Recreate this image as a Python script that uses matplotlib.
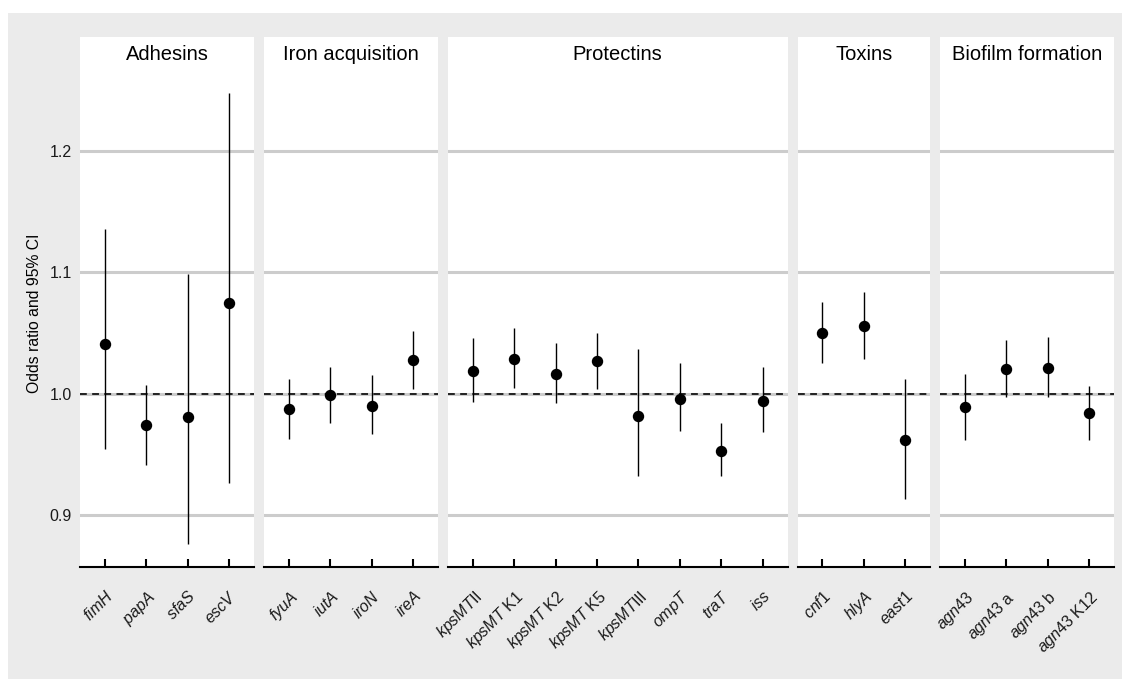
import matplotlib
matplotlib.use("Agg")
import matplotlib.pyplot as plt
from matplotlib.patches import Rectangle

plt.rcParams['font.family'] = 'Liberation Sans'
plt.rcParams['mathtext.fontset'] = 'custom'
plt.rcParams['mathtext.it'] = 'Liberation Sans:italic'
plt.rcParams['mathtext.rm'] = 'Liberation Sans'

# Virulence factor groups (facets)
groups = ["Adhesins", "Iron acquisition", "Protectins", "Toxins", "Biofilm formation"]

# Genes, the group each one belongs to, and the tick label shown
genes = ["fimH", "papA", "sfaS", "escV",
         "fyuA", "iutA", "iroN", "ireA",
         "kpsMTII", "kpsMT K1", "kpsMT K2", "kpsMT K5", "kpsMTIII", "ompT", "traT", "iss",
         "cnf1", "hlyA", "east1",
         "agn43", "agn43 a", "agn43 b", "agn43 K12"]
gene_group = [0, 0, 0, 0,
              1, 1, 1, 1,
              2, 2, 2, 2, 2, 2, 2, 2,
              3, 3, 3,
              4, 4, 4, 4]
tick_labels = [r"$\mathit{fimH}$", r"$\mathit{papA}$", r"$\mathit{sfaS}$", r"$\mathit{escV}$",
               r"$\mathit{fyuA}$", r"$\mathit{iutA}$", r"$\mathit{iroN}$", r"$\mathit{ireA}$",
               r"$\mathit{kpsMT}$II", r"$\mathit{kpsMT}$ K1", r"$\mathit{kpsMT}$ K2",
               r"$\mathit{kpsMT}$ K5", r"$\mathit{kpsMT}$III", r"$\mathit{ompT}$",
               r"$\mathit{traT}$", r"$\mathit{iss}$",
               r"$\mathit{cnf1}$", r"$\mathit{hlyA}$", r"$\mathit{east1}$",
               r"$\mathit{agn43}$", r"$\mathit{agn43}$ a", r"$\mathit{agn43}$ b", r"$\mathit{agn43}$ K12"]

# Odds ratios and 95% confidence limits
odds = [1.041, 0.974, 0.981, 1.075,
        0.987, 0.999, 0.990, 1.028,
        1.019, 1.029, 1.016, 1.027, 0.982, 0.996, 0.953, 0.994,
        1.050, 1.056, 0.962,
        0.989, 1.020, 1.021, 0.984]
ci_low = [0.954, 0.941, 0.876, 0.926,
          0.963, 0.976, 0.967, 1.004,
          0.993, 1.005, 0.992, 1.004, 0.932, 0.969, 0.932, 0.968,
          1.025, 1.029, 0.913,
          0.962, 0.997, 0.997, 0.962]
ci_high = [1.136, 1.007, 1.099, 1.248,
           1.012, 1.022, 1.015, 1.052,
           1.046, 1.054, 1.042, 1.050, 1.037, 1.025, 0.976, 1.022,
           1.076, 1.084, 1.012,
           1.016, 1.044, 1.047, 1.006]

W, H = 1122, 679
fig = plt.figure(figsize=(W / 100, H / 100), dpi=100)
fig.patches.append(Rectangle((8 / W, 0), 1 - 8 / W, 1 - 13 / H, transform=fig.transFigure,
                             facecolor="#ebebeb", edgecolor="none", zorder=-10))

# panel geometry in pixels
left, right, top, bottom, gap = 80, 1114, 37, 567, 10
sizes = [gene_group.count(g) for g in range(len(groups))]
unit = (right - left - gap * (len(groups) - 1)) / sum(n + 0.2 for n in sizes)

x0 = left
for g, name in enumerate(groups):
    idx = [i for i, gg in enumerate(gene_group) if gg == g]
    n = len(idx)
    w = (n + 0.2) * unit
    ax = fig.add_axes([x0 / W, 1 - bottom / H, w / W, (bottom - top) / H])
    x0 += w + gap
    ax.set_facecolor("white")

    xs = list(range(n))
    ax.set_xlim(-0.6, n - 1 + 0.6)
    ax.set_ylim(0.8571, 1.2941)
    ax.set_yticks([0.9, 1.0, 1.1, 1.2])
    ax.grid(axis="y", color="#cccccc", linewidth=2.2)
    ax.set_axisbelow(True)

    ax.axhline(1.0, color="#222222", linestyle=(0, (3.5, 2.75)), linewidth=1.4, zorder=2)
    ax.vlines(xs, [ci_low[i] for i in idx], [ci_high[i] for i in idx],
              color="black", linewidth=1.0, zorder=3)
    ax.plot(xs, [odds[i] for i in idx], "o", color="black", markersize=7.2, zorder=4)

    for side in ["top", "left", "right"]:
        ax.spines[side].set_visible(False)
    ax.spines["bottom"].set_linewidth(1.5)
    ax.spines["bottom"].set_color("black")

    ax.set_xticks(xs)
    ax.set_xticklabels([tick_labels[i] for i in idx], rotation=45, ha="right", va="top",
                       rotation_mode="anchor", fontsize=11.5, color="#1a1a1a")
    ax.tick_params(axis="x", direction="in", length=6, width=1.5, pad=15)
    ax.tick_params(axis="y", length=0, pad=6, labelsize=11.5, labelcolor="#1a1a1a")
    if g > 0:
        ax.tick_params(axis="y", labelleft=False)
    else:
        ax.set_yticklabels(["0.9", "1.0", "1.1", "1.2"])

    ax.text(0.5, 1 - 18 / (bottom - top), name, transform=ax.transAxes,
            ha="center", va="center", fontsize=14.5, color="black")

fig.text(35 / W, 1 - 313 / H, "Odds ratio and 95% CI", rotation=90,
         ha="center", va="center", fontsize=11.3, color="black")

fig.savefig("out.png", dpi=100, facecolor="white")
